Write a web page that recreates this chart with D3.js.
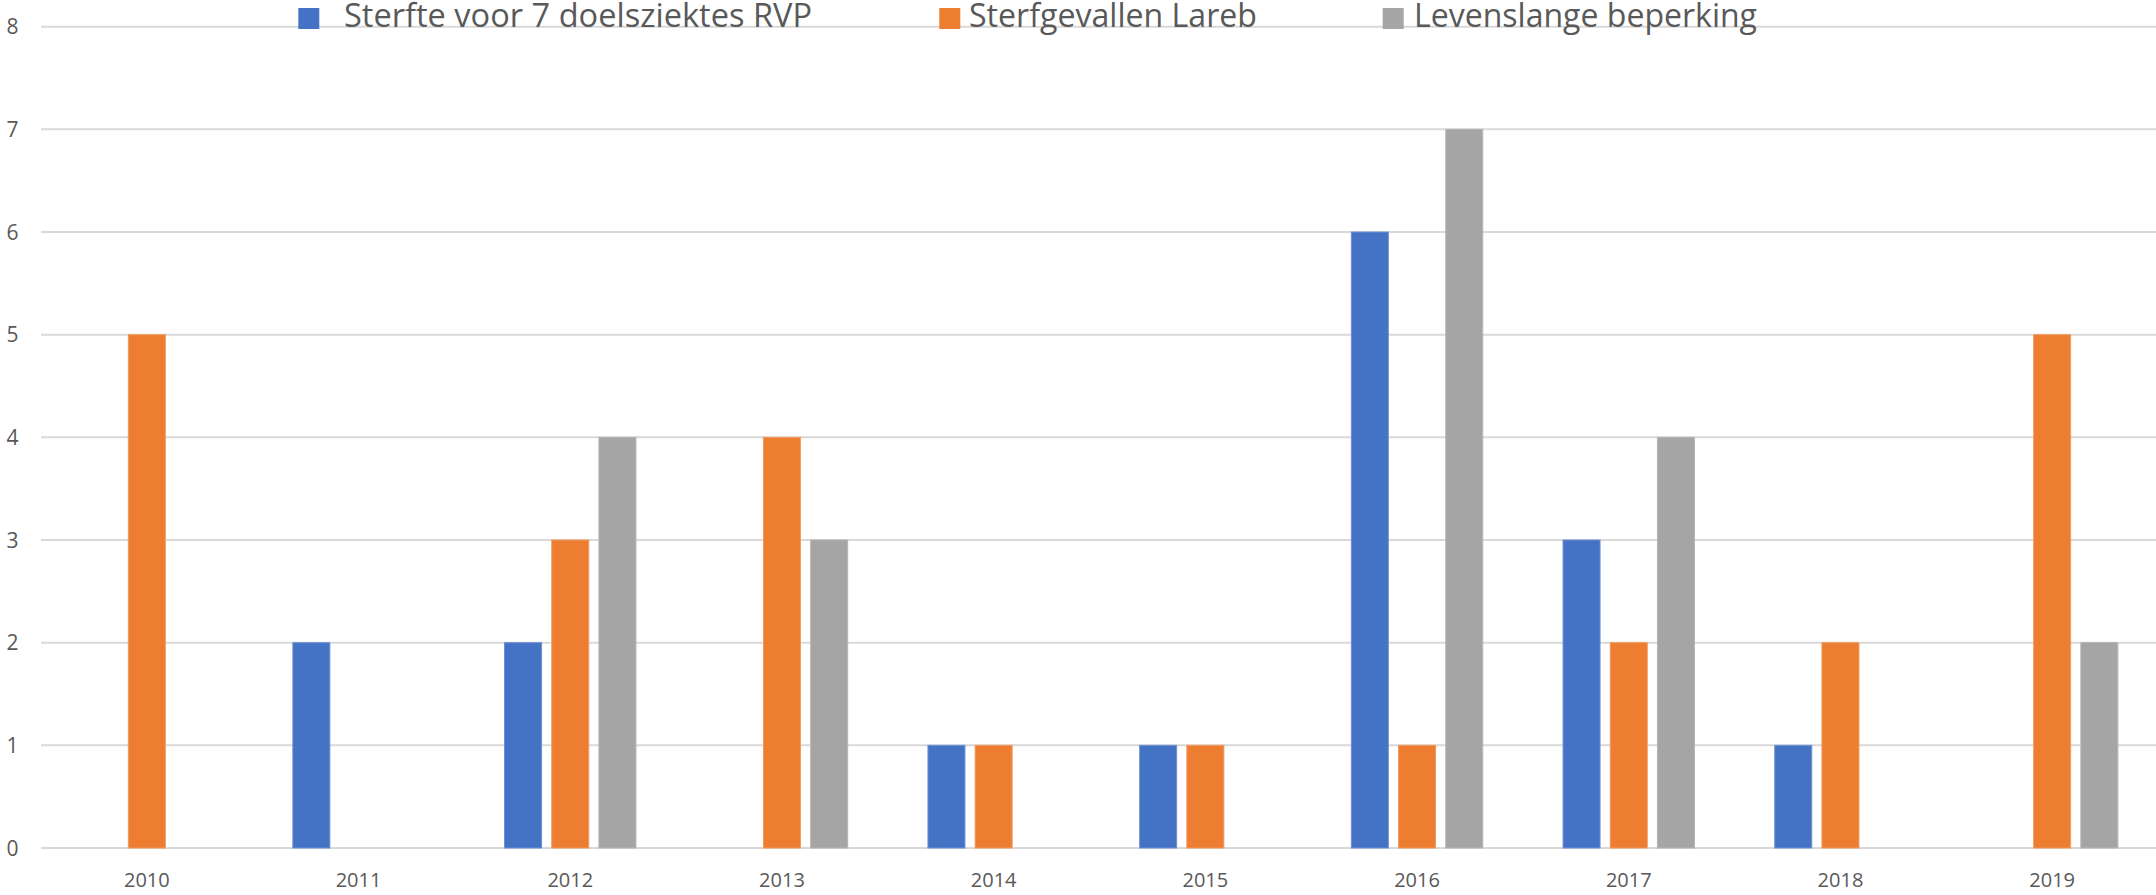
<!DOCTYPE html>
<html>
<head>
<meta charset="utf-8">
<script src="https://cdn.jsdelivr.net/npm/d3@7"></script>
<style>
  html, body { margin: 0; padding: 0; background: #fff; overflow: hidden; }
  text { font-family: 'Open Sans', sans-serif; fill: #595959; }
</style>
</head>
<body>
<div id="chart"></div>
<script>
// data
var years = ['2010', '2011', '2012', '2013', '2014', '2015', '2016', '2017', '2018', '2019']
var seriesNames = ['Sterfte voor 7 doelsziektes RVP', 'Sterfgevallen Lareb', 'Levenslange beperking']
var sterfteRVP = [0, 2, 2, 0, 1, 1, 6, 3, 1, 0]
var sterfgevallenLareb = [5, 0, 3, 4, 1, 1, 1, 2, 2, 5]
var levenslangeBeperking = [0, 0, 4, 3, 0, 0, 7, 4, 0, 2]
var yTicks = [0, 1, 2, 3, 4, 5, 6, 7, 8]

var colors = ['#4472C4', '#ED7D31', '#A5A5A5']
var strokes = ['#6F8FD0', '#F09A5E', '#B4B4B4']

var width = 2156
var height = 895
var margin = { top: 26.7, left: 41, right: -2, bottom: 47 }

var svg = d3.select('#chart')
  .append('svg')
  .attr('width', width)
  .attr('height', height)

var allSeries = [sterfteRVP, sterfgevallenLareb, levenslangeBeperking]

var xPositionScale = d3.scaleBand()
  .domain(years)
  .range([margin.left, width - margin.right])
  .padding(0)

var xInner = d3.scaleBand()
  .domain([0, 1, 2])
  .range([-65.7, 65.7])
  .paddingInner(0.216)
  .paddingOuter(0)

var yPositionScale = d3.scaleLinear()
  .domain([0, 8])
  .range([height - margin.bottom, margin.top])

// gridlines
svg.append('g')
  .selectAll('line')
  .data(yTicks)
  .enter()
  .append('line')
  .attr('x1', margin.left)
  .attr('x2', width)
  .attr('y1', d => yPositionScale(d))
  .attr('y2', d => yPositionScale(d))
  .attr('stroke', '#D9D9D9')
  .attr('stroke-width', 2)

// y labels
svg.append('g')
  .selectAll('text')
  .data(yTicks)
  .enter()
  .append('text')
  .text(d => d)
  .attr('x', 12.5)
  .attr('y', d => yPositionScale(d))
  .attr('dy', '0.36em')
  .attr('text-anchor', 'middle')
  .attr('font-size', 21)

// bars
var rows = []
years.forEach(function(yr, i) {
  allSeries.forEach(function(s, j) {
    if (s[i] > 0) rows.push({ year: yr, k: j, value: s[i] })
  })
})

svg.append('g')
  .selectAll('rect')
  .data(rows)
  .enter()
  .append('rect')
  .attr('x', d => xPositionScale(d.year) + xPositionScale.bandwidth() / 2 + xInner(d.k))
  .attr('width', xInner.bandwidth())
  .attr('y', d => yPositionScale(d.value))
  .attr('height', d => yPositionScale(0) - yPositionScale(d.value))
  .attr('fill', d => colors[d.k])
  .attr('stroke', d => strokes[d.k])
  .attr('stroke-width', 1)

// x labels
var xAxis = d3.axisBottom(xPositionScale).tickSize(0).tickPadding(0)
var xg = svg.append('g')
  .attr('class', 'x-axis')
  .attr('transform', 'translate(0,' + 887 + ')')
  .call(xAxis)
xg.select('.domain').remove()
xg.selectAll('text')
  .attr('dy', 0)
  .attr('y', 0)
  .attr('font-size', 20)
  .attr('fill', '#595959')
  .style('font-family', "'Open Sans', sans-serif")

// legend
var legendSquares = [298.3, 939.3, 1382.7]
var legendText = [344, 969, 1414]
var legendWidths = [468, 288, 343]

var legend = svg.append('g')
seriesNames.forEach(function(name, i) {
  legend.append('rect')
    .attr('x', legendSquares[i])
    .attr('y', 8)
    .attr('width', 21)
    .attr('height', 21)
    .attr('fill', colors[i])
  legend.append('text')
    .text(name)
    .attr('x', legendText[i])
    .attr('y', 26.7)
    .attr('font-size', 33)
    .attr('textLength', legendWidths[i])
    .attr('lengthAdjust', 'spacingAndGlyphs')
})
</script>
</body>
</html>
